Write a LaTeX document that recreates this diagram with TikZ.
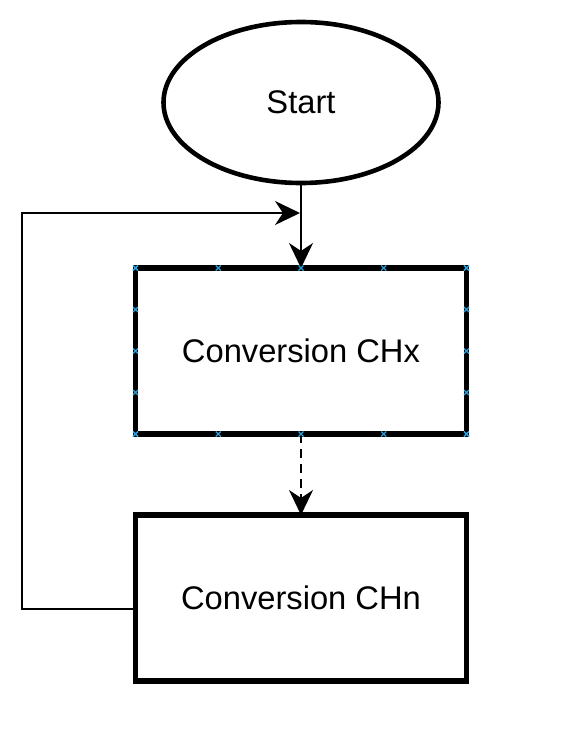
\documentclass[tikz,border=0pt]{standalone}
\usepackage{fontspec}
\setmainfont{Liberation Sans}
\usetikzlibrary{arrows.meta, positioning, calc, shapes.geometric}
\definecolor{markblue}{RGB}{41,160,220}

\begin{document}
\begin{tikzpicture}[
x=1pt, y=-1pt,
font=\fontsize{32.7}{39}\selectfont,
terminal/.style={draw,
ellipse,
line width=4.6pt,
minimum width=275pt,
minimum height=161pt,
inner sep=0pt,
outer sep=0pt},
box/.style={draw,
rectangle,
line width=5.6pt,
minimum width=331pt,
minimum height=166pt,
align=center,
outer sep=0pt},
arrow/.style={-{Stealth[length=25pt, width=24pt, inset=8pt]}, line width=2.3pt},
dasharrow/.style={arrow, dash pattern=on 9pt off 6pt},
pinmark/.style={markblue, line width=1.1pt}
]
\useasboundingbox (0,0) rectangle (583,737);

\node[terminal] (start) at (301,102.5) {Start};
\node[box, below=85pt of start] (conv1) {Conversion CHx};
\node[box, below=81pt of conv1] (conv2) {Conversion CHn};

\coordinate (merge) at (300,213);
\coordinate (corner) at (22,213);

\draw[arrow] (start) -- (conv1);
\draw[dasharrow] (conv1) -- (conv2);
\draw[arrow] ([yshift=-11pt]conv2.west) -| (corner) -- (merge);

% connection marks on the first box
\foreach \f in {0,0.25,0.5,0.75,1} {
  \draw[pinmark] ($(conv1.north west)!\f!(conv1.north east)$) ++(-2.5,-2.5) -- ++(5,5) ++(-5,0) -- ++(5,-5);
  \draw[pinmark] ($(conv1.south west)!\f!(conv1.south east)$) ++(-2.5,-2.5) -- ++(5,5) ++(-5,0) -- ++(5,-5);
  \draw[pinmark] ($(conv1.north west)!\f!(conv1.south west)$) ++(-2.5,-2.5) -- ++(5,5) ++(-5,0) -- ++(5,-5);
  \draw[pinmark] ($(conv1.north east)!\f!(conv1.south east)$) ++(-2.5,-2.5) -- ++(5,5) ++(-5,0) -- ++(5,-5);
}

\end{tikzpicture}
\end{document}
